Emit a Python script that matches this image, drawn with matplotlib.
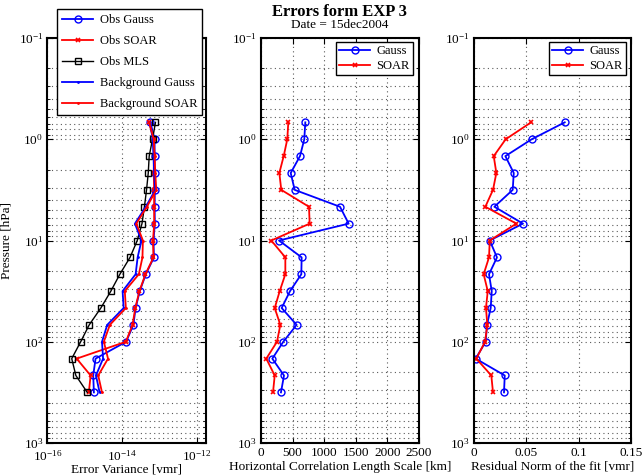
import numpy as np
import matplotlib.pyplot as plt
from matplotlib.ticker import LogLocator, LogFormatterMathtext, NullFormatter, NullLocator

plt.rcParams['font.family'] = 'Liberation Serif'
plt.rcParams['mathtext.fontset'] = 'stix'
plt.rcParams['font.size'] = 9

# MLS pressure levels [hPa]
pressure = [0.681, 1.0, 1.468, 2.154, 3.162, 4.642, 6.813, 10.0, 14.68,
            21.54, 31.62, 46.42, 68.13, 100.0, 146.8, 215.4, 316.2]

# error variances [vmr]
obs_gauss = [5.7e-14, 7.4e-14, 7.4e-14, 7.4e-14, 7.5e-14, 7.4e-14, 7.5e-14, 6.9e-14, 7.1e-14,
             4.3e-14, 2.96e-14, 2.3e-14, 2.0e-14, 1.28e-14, 1.95e-15, 1.69e-15, 1.76e-15]
obs_soar = [5.25e-14, 7.0e-14, 7.1e-14, 7.0e-14, 7.2e-14, 7.2e-14, 7.2e-14, 6.7e-14, 6.9e-14,
            4.2e-14, 2.9e-14, 2.25e-14, 1.9e-14, 1.26e-14, 6.1e-16, 1.44e-15, 1.29e-15]
obs_mls = [7.8e-14, 6.5e-14, 5.3e-14, 5.0e-14, 4.5e-14, 3.95e-14, 3.4e-14, 2.54e-14, 1.63e-14,
           8.7e-15, 5.0e-15, 2.7e-15, 1.32e-15, 7.8e-16, 4.5e-16, 5.8e-16, 1.17e-15]
bg_gauss = [5.5e-14, 6.6e-14, 6.9e-14, 7.2e-14, 7.7e-14, 4.3e-14, 2.2e-14, 3.3e-14, 2.6e-14,
            2.3e-14, 1.03e-14, 1.1e-14, 4.0e-15, 2.9e-15, 3.1e-15, 2.0e-15, 2.5e-15]
bg_soar = [5.3e-14, 7.0e-14, 7.4e-14, 7.7e-14, 8.2e-14, 4.6e-14, 2.4e-14, 3.6e-14, 3.5e-14,
           2.8e-14, 1.18e-14, 1.26e-14, 4.7e-15, 3.25e-15, 4.2e-15, 2.3e-15, 2.9e-15]

# horizontal correlation length scale [km]
len_gauss = [701, 685, 617, 470, 533, 1250, 1387, 285, 643,
             638, 459, 327, 564, 353, 179, 364, 316]
len_soar = [432, 416, 359, 290, 321, 759, 770, 163, 385,
            385, 296, 217, 306, 253, 84, 217, 190]

# residual norm of the fit [vmr]
res_gauss = [0.0868, 0.0553, 0.0302, 0.0382, 0.0372, 0.0197, 0.0470, 0.0153, 0.0222,
             0.0146, 0.0172, 0.0162, 0.0127, 0.0114, 0.0019, 0.0296, 0.0289]
res_soar = [0.0547, 0.0305, 0.0191, 0.0216, 0.0184, 0.0111, 0.0407, 0.0153, 0.0146,
            0.0095, 0.0134, 0.0117, 0.0130, 0.0108, 0.0025, 0.0168, 0.0184]

W, H = 643, 476
GRID = dict(linestyle=(0, (1, 3)), color='0.35', linewidth=0.8)


def px_axes(fig, x0, x1, y0, y1):
    return fig.add_axes([x0 / W, 1 - y1 / H, (x1 - x0) / W, (y1 - y0) / H])


def style_axes(ax):
    ax.set_yscale('log')
    ax.set_ylim(1000, 0.1)
    ax.set_yticks([0.1, 1, 10, 100, 1000])
    ax.yaxis.set_major_formatter(LogFormatterMathtext())
    ax.yaxis.set_minor_locator(LogLocator(base=10, subs=np.arange(2, 10)))
    ax.yaxis.set_minor_formatter(NullFormatter())
    ax.grid(True, axis='y', which='both', **GRID)
    ax.grid(True, axis='x', which='major', **GRID)
    ax.tick_params(which='both', direction='in', top=True, right=True, labelsize=9.5)
    ax.tick_params(which='major', length=4, pad=3)
    ax.tick_params(which='minor', length=2)
    for s in ax.spines.values():
        s.set_linewidth(1.5)


def add_legend(ax, fig, anchor, loc, spacing, pad):
    leg = ax.legend(loc=loc, bbox_to_anchor=anchor, bbox_transform=fig.transFigure,
                    borderaxespad=0, fancybox=False, framealpha=1, edgecolor='black',
                    fontsize=9, handlelength=2.5, labelspacing=spacing, borderpad=pad,
                    handletextpad=0.5)
    leg.get_frame().set_linewidth(1.0)
    return leg


fig = plt.figure(figsize=(W / 100, H / 100), dpi=100)

lw = 1.3
# --- error variances ---
ax1 = px_axes(fig, 47.3, 206, 38, 443)
ax1.plot(obs_gauss, pressure, '-o', color='blue', mfc='none', ms=5, lw=lw, label='Obs Gauss')
ax1.plot(obs_soar, pressure, '-x', color='red', ms=3.5, mew=1.2, lw=lw, label='Obs SOAR')
ax1.plot(obs_mls, pressure, '-s', color='black', mfc='none', ms=4, lw=1.0, label='Obs MLS')
ax1.plot(bg_gauss, pressure, '-', marker='.', ms=2, color='blue', lw=lw, label='Background Gauss')
ax1.plot(bg_soar, pressure, '-', marker='.', ms=2, color='red', lw=lw, label='Background SOAR')
ax1.set_xscale('log')
style_axes(ax1)
ax1.set_xlim(1e-16, 1.75e-12)
ax1.set_xticks([1e-16, 1e-14, 1e-12])
ax1.xaxis.set_major_formatter(LogFormatterMathtext())
ax1.xaxis.set_minor_locator(NullLocator())
ax1.tick_params(axis='x', which='major', pad=4)
ax1.set_xlabel('Error Variance [vmr]', fontsize=9.5, labelpad=0)
ax1.set_ylabel('Pressure [hPa]', fontsize=9.5, labelpad=4)
add_legend(ax1, fig, (57 / W, 1 - 9 / H), 'upper left', 0.72, 0.4)

# --- correlation length scale ---
ax2 = px_axes(fig, 261, 419, 38, 443)
ax2.plot(len_gauss, pressure, '-o', color='blue', mfc='none', ms=5, lw=lw, label='Gauss')
ax2.plot(len_soar, pressure, '-x', color='red', ms=3.5, mew=1.2, lw=lw, label='SOAR')
style_axes(ax2)
ax2.set_xlim(0, 2500)
ax2.set_xticks([0, 500, 1000, 1500, 2000, 2500])
ax2.set_xlabel('Horizontal Correlation Length Scale [km]', fontsize=9.5, labelpad=1)
add_legend(ax2, fig, (413 / W, 1 - 42 / H), 'upper right', 0.25, 0.25)

# --- residual norm ---
ax3 = px_axes(fig, 473.7, 631, 38, 443)
ax3.plot(res_gauss, pressure, '-o', color='blue', mfc='none', ms=5, lw=lw, label='Gauss')
ax3.plot(res_soar, pressure, '-x', color='red', ms=3.5, mew=1.2, lw=lw, label='SOAR')
style_axes(ax3)
ax3.set_xlim(0, 0.15)
ax3.set_xticks([0, 0.05, 0.1, 0.15])
ax3.set_xticklabels(['0', '0.05', '0.1', '0.15'])
ax3.set_xlabel('Residual Norm of the fit [vmr]', fontsize=9.5, labelpad=1)
add_legend(ax3, fig, (626 / W, 1 - 42 / H), 'upper right', 0.25, 0.25)

fig.text(340 / W, 1 - 12 / H, 'Errors form EXP 3', ha='center', va='center',
         fontsize=12, fontweight='bold')
fig.text(340 / W, 1 - 25 / H, 'Date = 15dec2004', ha='center', va='center', fontsize=9.5)

fig.savefig('out.png', dpi=100)
